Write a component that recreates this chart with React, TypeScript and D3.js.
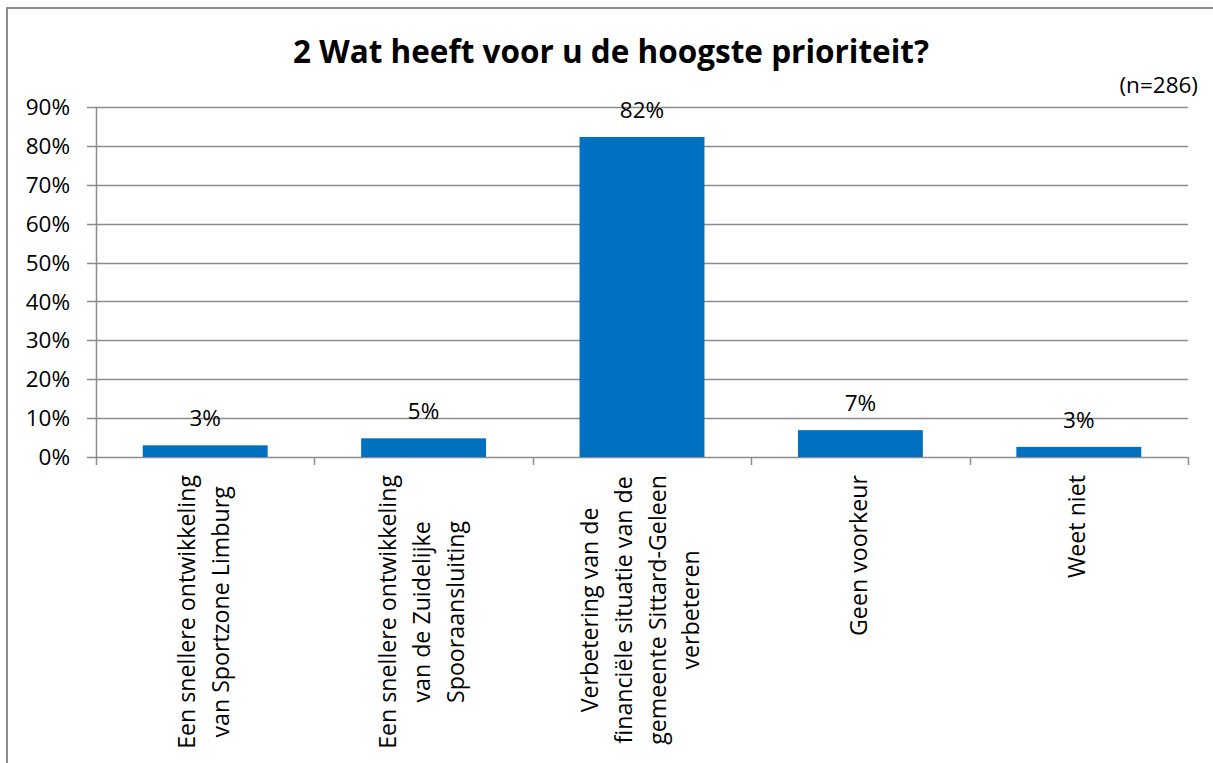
import React, { useEffect, useRef } from "react";
import * as d3 from "d3";

const categories: string[] = [
  "Een snellere ontwikkeling\nvan Sportzone Limburg",
  "Een snellere ontwikkeling\nvan de Zuidelijke\nSpooraansluiting",
  "Verbetering van de\nfinanciële situatie van de\ngemeente Sittard-Geleen\nverbeteren",
  "Geen voorkeur",
  "Weet niet",
];
const values: number[] = [3.0, 4.8, 82.3, 6.9, 2.6];
const yTicks: number[] = [0, 10, 20, 30, 40, 50, 60, 70, 80, 90];
const title = "2 Wat heeft voor u de hoogste prioriteit?";
const note = "(n=286)";

const W = 1213;
const H = 763;
const FONT = "'Open Sans', 'Noto Sans', sans-serif";

export default function App() {
  const ref = useRef<SVGSVGElement | null>(null);

  useEffect(() => {
    const svg = d3.select(ref.current);
    svg.selectAll("*").remove();

    const left = 96, right = 1188, top = 107, bottom = 457;
    const x = d3
      .scaleBand<string>()
      .domain(categories)
      .range([left, right])
      .paddingInner(0.428)
      .paddingOuter(0.214);
    const step = x.step();
    const y = d3.scaleLinear().domain([0, 90]).range([bottom, top]);
    const grid = "#8c8c8c";

    svg
      .append("rect")
      .attr("x", 7)
      .attr("y", 8)
      .attr("width", W + 20)
      .attr("height", H + 20)
      .attr("fill", "#fff")
      .attr("stroke", "#8c8c8c")
      .attr("stroke-width", 2);

    svg
      .append("text")
      .attr("x", 611)
      .attr("y", 63)
      .attr("text-anchor", "middle")
      .attr("font-family", FONT)
      .attr("font-weight", 700)
      .attr("font-size", 31.5)
      .attr("fill", "#000")
      .text(title);

    svg
      .append("text")
      .attr("x", 1198)
      .attr("y", 93)
      .attr("text-anchor", "end")
      .attr("font-family", FONT)
      .attr("font-size", 22.5)
      .attr("fill", "#000")
      .text(note);

    const gy = svg.append("g");
    yTicks.forEach((t) => {
      const yy = Math.round(y(t)) + 0.5;
      gy.append("line")
        .attr("x1", left - 9)
        .attr("x2", right)
        .attr("y1", yy)
        .attr("y2", yy)
        .attr("stroke", grid)
        .attr("stroke-width", 1.5);
      gy.append("text")
        .attr("x", 70)
        .attr("y", y(t))
        .attr("dy", "0.36em")
        .attr("text-anchor", "end")
        .attr("font-family", FONT)
        .attr("font-size", 22.5)
        .attr("fill", "#000")
        .text(`${t}%`);
    });

    svg
      .append("line")
      .attr("x1", left + 0.5)
      .attr("x2", left + 0.5)
      .attr("y1", top)
      .attr("y2", bottom)
      .attr("stroke", grid)
      .attr("stroke-width", 1.5);

    for (let i = 0; i <= categories.length; i++) {
      const xx = Math.round(left + i * step) + 0.5;
      svg
        .append("line")
        .attr("x1", xx)
        .attr("x2", xx)
        .attr("y1", bottom)
        .attr("y2", bottom + 8)
        .attr("stroke", grid)
        .attr("stroke-width", 1.5);
    }

    svg
      .append("g")
      .selectAll("rect")
      .data(values)
      .join("rect")
      .attr("x", (_, i) => x(categories[i])!)
      .attr("width", x.bandwidth())
      .attr("y", (d) => y(d))
      .attr("height", (d) => bottom - y(d))
      .attr("fill", "#0070C0");

    svg
      .append("g")
      .selectAll("text")
      .data(values)
      .join("text")
      .attr("x", (_, i) => x(categories[i])! + x.bandwidth() / 2)
      .attr("y", (d) => y(d) - 27)
      .attr("dy", "0.36em")
      .attr("text-anchor", "middle")
      .attr("font-family", FONT)
      .attr("font-size", 22.5)
      .attr("fill", "#000")
      .text((d) => `${Math.round(d)}%`);

    const lineH = 34;
    categories.forEach((c) => {
      const lines = c.split("\n");
      const cx = x(c)! + x.bandwidth() / 2;
      const g = svg
        .append("g")
        .attr("transform", `translate(${cx},475) rotate(-90)`);
      const texts = lines.map((ln, j) =>
        g
          .append("text")
          .attr("y", (j - (lines.length - 1) / 2) * lineH)
          .attr("dy", "0.28em")
          .attr("text-anchor", "middle")
          .attr("font-family", FONT)
          .attr("font-size", 23.2)
          .attr("fill", "#000")
          .text(ln)
      );
      const maxLen = d3.max(texts, (t) => (t.node() as SVGTextElement).getComputedTextLength()) || 0;
      texts.forEach((t) => t.attr("x", -maxLen / 2));
    });
  }, []);

  return (
    <svg
      ref={ref}
      width={W}
      height={H}
      style={{ position: "absolute", left: 0, top: 0, display: "block", background: "#fff" }}
    />
  );
}
